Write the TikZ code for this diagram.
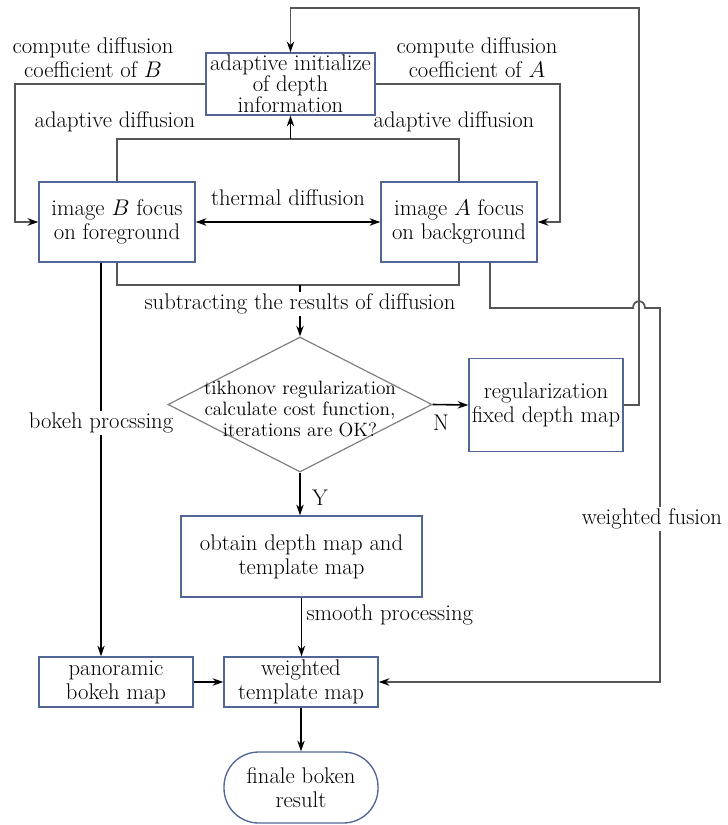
\RequirePackage{fix-cm}
\documentclass[tikz,border=0pt]{standalone}
\usepackage{fontspec}
\usepackage{amsmath}
\usetikzlibrary{arrows.meta,shapes.geometric}

\definecolor{boxblue}{RGB}{80,102,150}
\definecolor{linegray}{RGB}{85,85,85}

\begin{document}
\begin{tikzpicture}[x=0.75pt, y=-0.75pt, >={Stealth[length=8pt,width=5.5pt,color=black]},
	every box/.style={draw=boxblue, line width=1pt, fill=white, align=center, inner sep=1pt, font=\fontsize{17}{18}\selectfont},
	every label/.style={align=center, inner sep=1pt, font=\fontsize{17}{18}\selectfont},
	wire/.style={draw=linegray, line width=1.3pt},
	arr/.style={draw=black, line width=1.2pt, ->}]
	
	\useasboundingbox (0,0) rectangle (728,825);
	
	% boxes
	\node [every box, minimum width=126.75pt, minimum height=46.5pt, font=\fontsize{17}{15.8}\selectfont] (init) at (290.5,84) {adaptive initialize\\of depth\\information};
	\node [every box, minimum width=117pt, minimum height=60pt] (imgB) at (117,222) {image $B$ focus\\on foreground};
	\node [every box, minimum width=117pt, minimum height=60pt] (imgA) at (459,222) {image $A$ focus\\on background};
	\node [draw=gray, line width=0.9pt, shape=diamond, inner sep=0pt, minimum width=198pt, minimum height=101.25pt] (check) at (300,404.5) {};
	\node [every label, font=\fontsize{14.5}{16}\selectfont] (checktext) at (300,409) {tikhonov regularization\\calculate cost function,\\iterations are OK?};
	\node [every box, minimum width=115.5pt, minimum height=69.75pt] (reg) at (546,405) {regularization\\fixed depth map};
	\node [every box, minimum width=180.75pt, minimum height=60.75pt] (obtain) at (301.5,556.5) {obtain depth map and\\template map};
	\node [every box, minimum width=115.5pt, minimum height=37.5pt] (pano) at (116,682) {panoramic\\bokeh map};
	\node [every box, minimum width=115.5pt, minimum height=37.5pt] (weighted) at (301,682) {weighted\\template map};
	\node [every box, minimum width=115.5pt, minimum height=53.25pt, rounded corners=26pt] (final) at (301,787.5) {finale boken\\result};
	
	% routing points
	\coordinate (loopR) at (639,8);
	\coordinate (cB) at (15,0);
	\coordinate (cA) at (560,0);
	\coordinate (adp) at (0,139);
	\coordinate (sub) at (0,285);
	\coordinate (bk) at (101,0);
	\coordinate (ax) at (490,0);
	\coordinate (hopL) at (633,308);
	\coordinate (hopR) at (645,308);
	\coordinate (fu) at (660,308);
	
	\draw [wire, ->] (reg.east) -| (loopR) -| (init.north);
	\draw [wire, ->] (init.west) -- (init.west -| cB) |- (imgB.west);
	\draw [wire, ->] (init.east) -- (init.east -| cA) |- (imgA.east);
	
	\draw [wire] (imgB.north) |- (adp -| imgA.north) -- (imgA.north);
	\draw [arr] (adp -| init.south) -- (init.south);
	
	\draw [arr, <->] (imgB.east) -- (imgA.west);
	
	\draw [wire] (imgB.south) |- (sub -| imgA.south) -- (imgA.south);
	\draw [arr] (sub -| check.north) -- (check.north);
	
	\draw [arr] (check.south) -- (check.south |- obtain.north);
	\draw [arr] (obtain.south) -- (obtain.south |- weighted.north);
	\draw [arr] (imgB.south -| bk) -- (pano.north -| bk);
	
	\foreach \a/\b in {check.east/reg.west, pano.east/weighted.west, weighted.south/final.north}
	\draw [arr] (\a) -- (\b);
	
	\draw [wire, ->] (imgA.south -| ax) |- (hopL) .. controls (633,299) and (645,299) .. (hopR) -- (fu) |- (weighted.east);
	
	% labels
	\node [every label] (coefB) at (93,58) {compute diffusion\\coefficient of $B$};
	\node [every label] (coefA) at (477,58) {compute diffusion\\coefficient of $A$};
	\node [every label] (adpB) at (115,122) {adaptive diffusion};
	\node [every label] (adpA) at (454,122) {adaptive diffusion};
	\node [every label] (thermal) at (288,198) {thermal diffusion};
	\node [every label, fill=white] (sublbl) at (300,304) {subtracting the results of diffusion};
	\node [every label, fill=white] (bokeh) at (101,423) {bokeh procssing};
	\node [every label, fill=white] (fusion) at (652,519) {weighted fusion};
	\node [every label] (nlbl) at (441,423) {N};
	\node [every label] (ylbl) at (320,498) {Y};
	\node [every label, anchor=west] (smooth) at (305,615) {smooth processing};
\end{tikzpicture}
\end{document}
